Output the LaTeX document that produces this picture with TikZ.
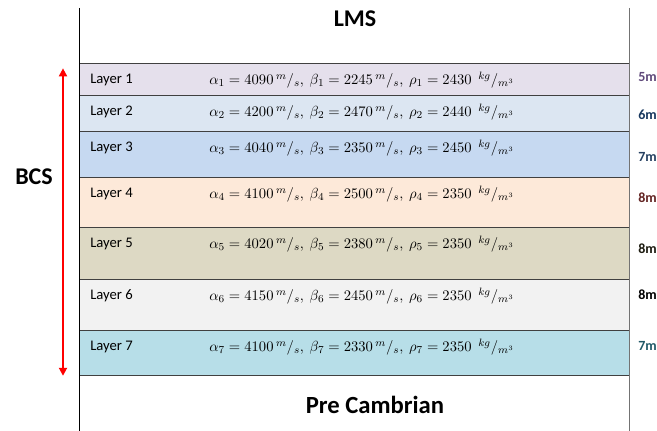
\documentclass[tikz,border=0pt]{standalone}
\usepackage{amsmath}
\usepackage{fontspec}
\setmainfont{Carlito}
\usetikzlibrary{arrows.meta, positioning}

% layer fills
\definecolor{lay1}{HTML}{E5E0EC}
\definecolor{lay2}{HTML}{DCE6F2}
\definecolor{lay3}{HTML}{C6D9F1}
\definecolor{lay4}{HTML}{FDE9D9}
\definecolor{lay5}{HTML}{DDD9C4}
\definecolor{lay6}{HTML}{F2F2F2}
\definecolor{lay7}{HTML}{B7DEE8}
% thickness label colours
\definecolor{thk1}{HTML}{5F497A}
\definecolor{thk2}{HTML}{17375E}
\definecolor{thk3}{HTML}{254061}
\definecolor{thk4}{HTML}{632423}
\definecolor{thk5}{HTML}{1D1B10}
\definecolor{thk6}{HTML}{000000}
\definecolor{thk7}{HTML}{215968}

\newcommand{\ums}{\,{}^{m}/_{s}}
\newcommand{\ukg}{\ \ {}^{kg}/_{m^3}}

\begin{document}
\begin{tikzpicture}[
    x=0.75pt, y=-0.75pt,
    % layer rows
    layerbox/.style={draw=black!75, line width=0.6pt, anchor=north west, inner sep=0pt, minimum width=412.5pt},
    layername/.style={anchor=west, inner sep=0pt, font=\fontsize{11}{13}\selectfont},
    props/.style={anchor=west, inner sep=0pt, font=\fontsize{11}{13}\selectfont},
    thklabel/.style={anchor=west, inner sep=0pt, font=\fontsize{10.5}{13}\selectfont\bfseries},
    % titles
    title/.style={font=\fontsize{18}{21}\selectfont\bfseries, inner sep=0pt},
    bcsarrow/.style={draw=red, line width=1.4pt, {Triangle[length=6pt,width=6pt]}-{Triangle[length=6pt,width=6pt]}},
    frameline/.style={line width=0.6pt}
]
\clip (0,0) rectangle (657,431);
\useasboundingbox (0,0) rectangle (657,431);

% Frame sides
\coordinate (lefttop) at (79,8);
\coordinate (leftbot) at (79,431);
\coordinate (righttop) at (629,8);
\coordinate (rightbot) at (629,431);

% Layers with values
\foreach \i/\ytop/\ybot/\va/\vbeta/\vr/\thk/\ythk in {
    1/63/95/4090/2245/2430/5/77,
    2/95/131/4200/2470/2440/6/115,
    3/131/177/4040/2350/2450/7/157,
    4/177/227/4100/2500/2350/8/198,
    5/227/279/4020/2380/2350/8/249,
    6/279/330/4150/2450/2350/8/295,
    7/330/375/4100/2330/2350/7/346} {
    \node[layerbox, fill=lay\i, minimum height=(\ybot-\ytop)*0.75pt] (layer\i) at (79,\ytop) {};
    \node[layername] (name\i) at (90,{\ytop+17}) {Layer \i};
    \node[props] (props\i) at (209,{\ytop+17}) {$\alpha_{\i} = \va\ums,\ \beta_{\i} = \vbeta\ums,\ \rho_{\i} = \vr\ukg$};
    \node[thklabel, text=thk\i] (thk\i) at (638,\ythk) {\thk m};
}

\draw[frameline] (lefttop) -- (leftbot);
\draw[frameline, draw=black!55] (righttop) -- (rightbot);

% Titles
\node[title] (lms) at (355,19) {LMS};
\node[title, font=\fontsize{18.5}{21}\selectfont\bfseries] (precamb) at (375,405) {Pre Cambrian};
\node[title] (bcs) at (34,177) {BCS};

% BCS extent
\draw[bcsarrow] ([xshift=-12pt,yshift=-4pt]layer1.north west) -- ([xshift=-12pt]layer7.south west);

\end{tikzpicture}
\end{document}
